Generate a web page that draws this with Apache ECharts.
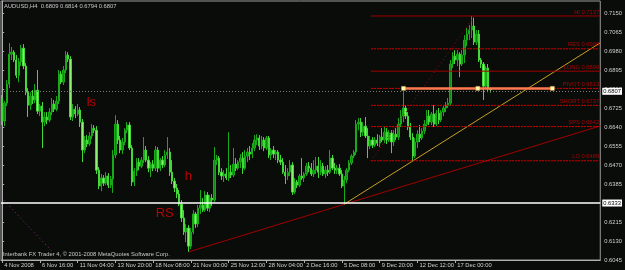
<!DOCTYPE html>
<html><head><meta charset="utf-8">
<script src="https://cdn.jsdelivr.net/npm/echarts@6/dist/echarts.min.js"></script>
<style>html,body{margin:0;padding:0;background:#0a0c0a;}#c{width:625px;height:270px;}</style>
</head><body><div id="c"></div>
<script>
// ---- data (prices in pips, i.e. price * 10000) ----
const tickLabels = ['4 Nov 2008','6 Nov 16:00','11 Nov 04:00','13 Nov 20:00','18 Nov 08:00','21 Nov 00:00','25 Nov 12:00','28 Nov 04:00','2 Dec 16:00','5 Dec 08:00','9 Dec 20:00','12 Dec 12:00','17 Dec 00:00'];
const opens = [
6770,6667,6747,6832,6966,6975,6940,6872,6931,6993,
6913,6796,6738,6778,6761,6805,6711,6734,6662,6685,
6671,6707,6743,6720,6756,6877,6841,6895,6962,6944,
6685,6720,6698,6716,6662,6537,6582,6564,6600,6635,
6626,6447,6376,6412,6389,6421,6380,6407,6515,6653,
6582,6537,6573,6626,6649,6546,6394,6443,6483,6465,
6492,6537,6492,6456,6474,6456,6537,6456,6492,6470,
6515,6528,6438,6398,6367,6340,6295,6233,6170,6188,
6107,6170,6251,6206,6277,6291,6268,6336,6277,6322,
6313,6492,6501,6438,6421,6430,6412,6438,6425,6474,
6456,6483,6501,6456,6510,6528,6519,6546,6582,6591,
6555,6582,6546,6591,6515,6537,6519,6528,6492,6483,
6438,6421,6438,6470,6349,6394,6380,6421,6412,6430,
6465,6456,6430,6447,6465,6438,6465,6430,6447,6438,
6501,6456,6447,6456,6430,6376,6403,6447,6479,6510,
6528,6653,6662,6617,6644,6600,6555,6582,6559,6582,
6568,6595,6582,6617,6582,6613,6573,6608,6595,6653,
6689,6725,6689,6640,6595,6510,6573,6608,6591,6622,
6653,6689,6662,6698,6653,6702,6671,6707,6725,6738,
6747,6922,6957,6940,6966,6922,6962,7029,7056,7074,
7092,7020,7056,6940,6922,6823,6904,6809];
const closes = [
6667,6747,6832,6966,6975,6940,6872,6931,6993,6913,
6796,6738,6778,6761,6805,6711,6734,6662,6685,6671,
6707,6743,6720,6756,6877,6841,6895,6962,6944,6685,
6720,6698,6716,6662,6537,6582,6564,6600,6635,6626,
6447,6376,6412,6389,6421,6380,6407,6515,6653,6582,
6537,6573,6626,6649,6546,6394,6443,6483,6465,6492,
6537,6492,6456,6474,6456,6537,6456,6492,6470,6515,
6528,6438,6398,6367,6340,6295,6233,6170,6188,6107,
6170,6251,6206,6277,6291,6268,6336,6277,6322,6313,
6492,6501,6438,6421,6430,6412,6438,6425,6474,6456,
6483,6501,6456,6510,6528,6519,6546,6582,6591,6555,
6582,6546,6591,6515,6537,6519,6528,6492,6483,6438,
6421,6438,6470,6349,6394,6380,6421,6412,6430,6465,
6456,6430,6447,6465,6438,6465,6430,6447,6438,6501,
6456,6447,6456,6430,6376,6403,6447,6479,6510,6528,
6653,6662,6617,6644,6600,6555,6582,6559,6582,6568,
6595,6582,6617,6582,6613,6573,6608,6595,6653,6689,
6725,6689,6640,6595,6510,6573,6608,6591,6622,6653,
6689,6662,6698,6653,6702,6671,6707,6725,6738,6747,
6922,6957,6940,6966,6922,6962,7029,7056,7074,7092,
7020,7056,6940,6922,6823,6904,6814,6807];
const lows = [
6649,6644,6734,6814,6940,6931,6859,6841,6913,6899,
6783,6685,6716,6743,6747,6698,6689,6546,6644,6653,
6662,6693,6707,6711,6743,6832,6828,6881,6931,6671,
6667,6680,6689,6640,6483,6523,6550,6555,6586,6613,
6430,6362,6353,6376,6380,6367,6367,6345,6501,6564,
6523,6519,6559,6613,6537,6376,6376,6421,6447,6456,
6479,6483,6438,6416,6443,6443,6438,6443,6456,6461,
6497,6421,6385,6349,6322,6286,6215,6157,6125,6081,
6094,6161,6188,6192,6251,6260,6260,6264,6260,6286,
6304,6470,6425,6403,6394,6403,6398,6412,6416,6443,
6447,6456,6430,6447,6483,6492,6501,6532,6559,6537,
6541,6532,6537,6501,6492,6501,6492,6479,6470,6430,
6385,6403,6421,6336,6340,6367,6371,6403,6394,6421,
6438,6421,6416,6430,6412,6425,6421,6412,6421,6430,
6447,6430,6430,6421,6367,6295,6389,6438,6470,6501,
6515,6626,6595,6600,6591,6501,6541,6546,6550,6555,
6550,6573,6568,6564,6573,6523,6555,6582,6582,6640,
6662,6676,6626,6582,6489,6501,6546,6573,6582,6608,
6640,6649,6649,6640,6644,6653,6662,6689,6707,6725,
6734,6904,6922,6913,6863,6913,6926,7002,7029,7038,
7007,7007,6931,6904,6761,6814,6796,6794];
const highs = [
6783,6756,6850,7016,6998,6984,6962,6949,7007,7011,
6926,6814,6796,6805,6832,6895,6743,6752,6707,6707,
6725,6770,6761,6778,6895,6890,6913,6980,6975,6957,
6743,6734,6743,6729,6676,6600,6604,6617,6653,6649,
6644,6461,6430,6425,6438,6434,6421,6537,6693,6671,
6600,6591,6635,6662,6662,6559,6456,6501,6501,6506,
6595,6555,6510,6483,6492,6555,6550,6501,6510,6537,
6595,6546,6492,6412,6385,6358,6313,6268,6206,6201,
6188,6268,6260,6291,6358,6322,6353,6349,6336,6340,
6550,6515,6510,6456,6447,6456,6617,6470,6546,6501,
6492,6519,6528,6537,6546,6555,6568,6604,6608,6604,
6600,6595,6600,6600,6546,6555,6537,6537,6515,6501,
6470,6456,6492,6483,6412,6403,6430,6501,6438,6479,
6483,6479,6492,6506,6506,6492,6479,6465,6470,6537,
6515,6479,6470,6474,6447,6421,6456,6492,6519,6537,
6671,6680,6680,6662,6685,6635,6600,6595,6595,6608,
6604,6635,6640,6635,6626,6626,6626,6635,6680,6716,
6796,6738,6707,6658,6613,6591,6626,6649,6635,6671,
6716,6716,6707,6738,6716,6725,6716,6738,6752,6770,
6940,6975,6984,6984,6975,6984,7051,7083,7096,7137,
7130,7074,7074,6949,6931,6913,6922,6814];
const priceTicks = [0.6045,0.6130,0.6215,0.6300,0.6385,0.6470,0.6555,0.6640,0.6725,0.6810,0.6895,0.6980,0.7065,0.7150];
const levelNames = ['HI','RES','LONG','PIVOT','SHORT','SPS','LO'];
const levelValues = [0.7137,0.6990,0.6890,0.6813,0.6737,0.6642,0.6489];
const supportLevel = 0.6333;
const trendYellow = [[145,0.6295],[253.5,0.7017]];
const trendRed = [[79,0.6081],[253.5,0.6645]];
const trendPurple = [[-0.4,0.6325],[21,0.6085]];
const fibDiagonal = [[156.3,0.6489],[200.2,0.7137]];
const pivotSegment = [[170.1,0.6813],[201.6,0.6813],[233.2,0.6813]];
const noteTexts = ['ls','h','RS'];
const notePoints = [[37.8,0.6750],[78.9,0.6419],[68.9,0.6255]];

// ---- layout / style ----
const N_CATS = 254;
const FONT = 'Liberation Sans, Arial, sans-serif';
const FS = 5.8;
const levelStart = 156.3, levelEnd = 253.5;
const levelLineType = ['solid','dotted','solid','dotted','dotted','dotted','dotted'];
const levelLineColor = ['#a00000','#d00000','#a00000','#d00000','#d00000','#d00000','#d00000'];

const P = v => v / 10000;
const categories = Array.from({length: N_CATS}, (_, i) => String(i));
const candles = opens.map((o, i) => [P(o), P(closes[i]), P(lows[i]), P(highs[i])]);
const last = opens.length - 1;
const bid = P(closes[last]);
const title = 'AUDUSD,H4  ' + [opens[last], highs[last], lows[last], closes[last]].map(v => P(v).toFixed(4)).join(' ');

function boxLabel(v) {
  return {show:true, position:'end', distance:2, color:'#000', backgroundColor:'#fff',
    fontSize:FS, fontFamily:FONT, padding:[1,1,0,1], formatter: v.toFixed(4)};
}

const series = [{
  type:'candlestick', xAxisIndex:0, yAxisIndex:0, data:candles, barWidth:1.8,
  itemStyle:{color:'#0e8a0e', color0:'#8ef070', borderColor:'#18aa18', borderColor0:'#44d838', borderWidth:1},
  markLine:{symbol:'none', silent:true, animation:false, data:[
    {yAxis:bid, lineStyle:{color:'#7c7c7c', type:[1,2], width:1}, label:boxLabel(bid)},
    {yAxis:supportLevel, lineStyle:{color:'#ffffff', type:'solid', width:1.5}, label:boxLabel(supportLevel)}
  ]}
}];
function lineSeries(data, color, type, width, extra) {
  return Object.assign({type:'line', xAxisIndex:1, yAxisIndex:0, data, symbol:'none', silent:true,
    animation:false, lineStyle:{color, type, width}, z:3}, extra || {});
}
series.push(lineSeries(trendPurple, '#8a2a8a', [1,3], 1));
series.push(lineSeries(trendRed, '#a00000', 'solid', 1));
series.push(lineSeries(trendYellow, '#c8a020', 'solid', 1));
series.push(lineSeries(fibDiagonal, '#b00000', [1,3], 1));
levelValues.forEach((v, k) => {
  series.push(lineSeries([[levelStart, v], [levelEnd, v]], levelLineColor[k],
    levelLineType[k] === 'dotted' ? [2,1] : 'solid', 1));
});
series.push(lineSeries(pivotSegment, '#ff7a50', 'solid', 2.5, {
  symbol:'rect', symbolSize:4, showSymbol:true,
  itemStyle:{color:'#ffffb0', borderColor:'#e0a040', borderWidth:0.5}, z:4}));
series.push({type:'scatter', xAxisIndex:1, yAxisIndex:0, symbolSize:0, silent:true, animation:false,
  data: levelValues.map((v, k) => ({value:[levelEnd, v], name:levelNames[k] + ' ' + v.toFixed(4)})),
  label:{show:true, position:'left', distance:1, offset:[0,-4], formatter: p => p.name,
    color:'#d00000', fontSize:FS, fontFamily:FONT}, z:5});
series.push({type:'scatter', xAxisIndex:1, yAxisIndex:0, symbolSize:0, silent:true, animation:false,
  data: notePoints.map((pt, k) => ({value:pt, name:noteTexts[k]})),
  label:{show:true, position:'inside', formatter: p => p.name, color:'#e00000', fontSize:13, fontFamily:FONT}, z:5});

const chart = echarts.init(document.getElementById('c'), null, {renderer:'canvas'});
chart.setOption({
  animation:false,
  backgroundColor:'#0a0c0a',
  grid:{left:1, right:24, top:1, bottom:10, show:true, borderColor:'#9a9a9a', borderWidth:1, backgroundColor:'transparent'},
  xAxis:[{
    type:'category', data:categories, boundaryGap:true,
    axisLine:{lineStyle:{color:'#b0b0b0'}},
    axisTick:{show:true, alignWithLabel:true, length:3, lineStyle:{color:'#b0b0b0'},
      interval:(i) => i % 16 === 0 && i / 16 < tickLabels.length},
    axisLabel:{show:true, color:'#d0d0d0', fontSize:FS, fontFamily:FONT, align:'left', margin:2, padding:[0,0,0,2],
      interval:(i) => i % 16 === 0 && i / 16 < tickLabels.length,
      formatter:(v, i) => tickLabels[i / 16] || ''},
    splitLine:{show:false}
  },{
    type:'value', min:-0.5, max:N_CATS - 0.5, show:false
  }],
  yAxis:[{
    type:'value', position:'right', min:0.6045, max:0.7204, scale:true,
    axisLine:{show:true, lineStyle:{color:'#b0b0b0'}},
    axisTick:{show:true, length:2, customValues:priceTicks, lineStyle:{color:'#b0b0b0'}},
    axisLabel:{show:true, customValues:priceTicks, color:'#d0d0d0', fontSize:FS, fontFamily:FONT, margin:4,
      formatter:v => v.toFixed(4)},
    splitLine:{show:false}
  }],
  graphic:[
    {type:'text', left:4, top:3, style:{text:title, fill:'#c8c8c8', fontSize:FS, fontFamily:FONT}},
    {type:'text', left:3, top:251, style:{text:'Interbank FX Trader 4, \u00a9 2001-2008 MetaQuotes Software Corp.', fill:'#c8c8c8', fontSize:FS, fontFamily:FONT}}
  ],
  series
});
</script>
</body></html>
